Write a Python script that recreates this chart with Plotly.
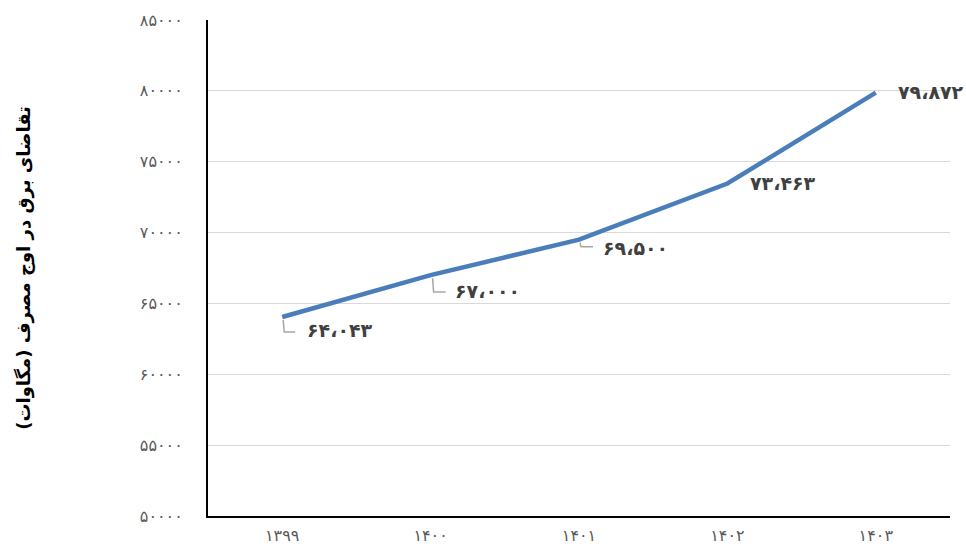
import plotly.graph_objects as go

# Peak electricity demand (MW) by Iranian calendar year
years = [1399, 1400, 1401, 1402, 1403]
peak_demand = [64043, 67000, 69500, 73463, 79872]
y_ticks = [50000, 55000, 60000, 65000, 70000, 75000, 80000, 85000]

# Label placement: text offset (px, right / down) and leader elbow (px, down then right)
label_offsets = [(23, 13), (22, 16), (22, 8), (21, -1), (20, -1)]
leader_paths = [(1, 15, 13), (2, 17, 15), (1, 7, 14), None, None]

FA_DIGITS = str.maketrans("0123456789", "۰۱۲۳۴۵۶۷۸۹")


def fa(n, grouped=False):
    s = f"{n:,}" if grouped else str(n)
    return s.replace(",", "،").translate(FA_DIGITS)


fig = go.Figure()
fig.add_trace(go.Scatter(
    x=list(range(len(years))), y=peak_demand, mode="lines",
    line=dict(color="#4A7EBB", width=4.5), hoverinfo="skip",
))

for i, (v, (dx, dy)) in enumerate(zip(peak_demand, label_offsets)):
    fig.add_annotation(
        x=i, y=v, xref="x", yref="y", text=f"<b>{fa(v, grouped=True)}</b>",
        showarrow=False, xanchor="left", yanchor="middle",
        xshift=dx, yshift=-dy,
        font=dict(family="DejaVu Sans", size=19, color="#404040"),
    )
    lp = leader_paths[i]
    if lp:
        x0, down, right = lp
        fig.add_shape(
            type="path", xref="x", yref="y",
            xsizemode="pixel", ysizemode="pixel", xanchor=i, yanchor=v,
            path=f"M{x0},-3 L{x0 + 1},-{down} L{right},-{down}",
            line=dict(color="#A6A6A6", width=1.5),
        )

fig.update_layout(
    width=966, height=548,
    margin=dict(l=208, r=16, t=20, b=32),
    paper_bgcolor="white", plot_bgcolor="white",
    showlegend=False,
    font=dict(family="DejaVu Sans"),
)
fig.update_xaxes(
    range=[-0.5, len(years) - 0.5],
    tickvals=list(range(len(years))), ticktext=[fa(y) for y in years],
    tickfont=dict(size=16, color="#595959"),
    showgrid=False, showline=True, linecolor="black", linewidth=2,
    ticks="", ticklabelstandoff=4, zeroline=False, automargin=False,
)
fig.update_yaxes(
    range=[50000, 85000],
    tickvals=y_ticks, ticktext=[fa(t) for t in y_ticks],
    tickfont=dict(size=16, color="#595959"),
    showgrid=True, gridcolor="#D9D9D9", gridwidth=1,
    showline=True, linecolor="black", linewidth=2,
    ticks="", ticklabelstandoff=20, zeroline=False, automargin=False,
    title=dict(text="<b>تقاضای برق در اوج مصرف (مگاوات)</b>",
               font=dict(size=18, color="black"), standoff=105),
)

fig.write_html("out.html")
